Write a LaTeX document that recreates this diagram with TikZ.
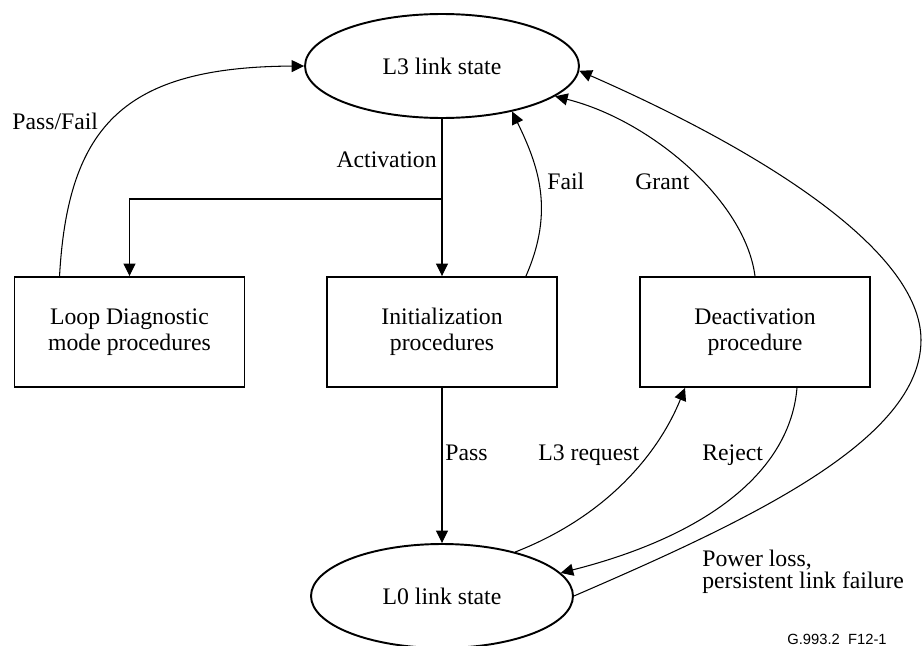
\documentclass[tikz,border=0pt]{standalone}
\usepackage{fontspec}
\setmainfont{Liberation Serif}
\newfontfamily\figfont{Liberation Sans}
\usetikzlibrary{shapes.geometric,arrows.meta}

\tikzset{
    state/.style={ellipse, draw, line width=1.1pt, minimum height=2.08cm, font=\fontsize{13.5}{14.5}\selectfont},
    proc/.style={rectangle, draw, line width=1.1pt, minimum width=4.6cm, minimum height=2.2cm, align=center, font=\fontsize{13.5}{14.7}\selectfont},
    flow/.style={line width=0.6pt, -{Triangle[length=0.25cm, width=0.24cm]}},
    lbl/.style={inner sep=0pt, font=\fontsize{13.5}{14.5}\selectfont}
}

\begin{document}
\begin{tikzpicture}[x=0.02cm, y=-0.02cm]
    \useasboundingbox (0,0) rectangle (924,646);

    % states
    \node[state, minimum width=5.48cm] (l3) at (442,66) {L3 link state};
    \node[state, minimum width=5.24cm] (l0) at (442,596) {L0 link state};

    % procedures
    \node[proc] (diag) at (129.5,332) {Loop Diagnostic\\mode procedures};
    \node[proc] (init) at (442,332) {Initialization\\procedures};
    \node[proc] (deact) at (755,332) {Deactivation\\procedure};

    % activation branch
    \coordinate (split) at (442,199);
    \draw[line width=0.6pt] (l3) -- (split);
    \draw[flow] (split) -- (init);
    \draw[flow] (split) -| (diag);

    % back to L3
    \draw[flow] ([xshift=0.92cm]diag.north west) .. controls (68,125) and (125,67) .. (l3.west);
    \draw[flow] ([xshift=-0.64cm]init.north east) .. controls (555,210) and (538,165) .. (l3.-33);
    \draw[flow] (deact.north) .. controls (745,200) and (650,120) .. (l3.-15);
    \coordinate (bend) at (921,340);
    \draw[flow] (l0.east) .. controls (750,520) and (921,440) .. (bend) .. controls (921,250) and (760,150) .. (l3.-2);

    % L0 side
    \draw[flow] (init) -- (l0);
    \draw[flow] (l0.31) .. controls (610,515) and (660,450) .. ([xshift=-1.4cm]deact.south);
    \draw[flow] ([xshift=0.84cm]deact.south) .. controls (790,470) and (710,535) .. (l0.11);

    % labels
    \node[lbl, anchor=base west] (passfail) at (12,129) {Pass/Fail};
    \node[lbl, anchor=base east] (activ) at (437,167) {Activation};
    \node[lbl, anchor=base west] (fail) at (547,189) {Fail};
    \node[lbl, anchor=base west] (grant) at (635,189) {Grant};
    \node[lbl, anchor=base west] (pass) at (445,460) {Pass};
    \node[lbl, anchor=base west] (req) at (538,460) {L3 request};
    \node[lbl, anchor=base west] (reject) at (702,460) {Reject};
    \node[lbl, anchor=base west, align=left, font=\fontsize{13.5}{12}\selectfont] (loss) at (702,588) {Power loss,\\persistent link failure};
    \node[inner sep=0pt, anchor=base east, font=\figfont\fontsize{8.4}{10}\selectfont] (figno) at (887,644) {G.993.2\ \ F12-1};
\end{tikzpicture}
\end{document}
